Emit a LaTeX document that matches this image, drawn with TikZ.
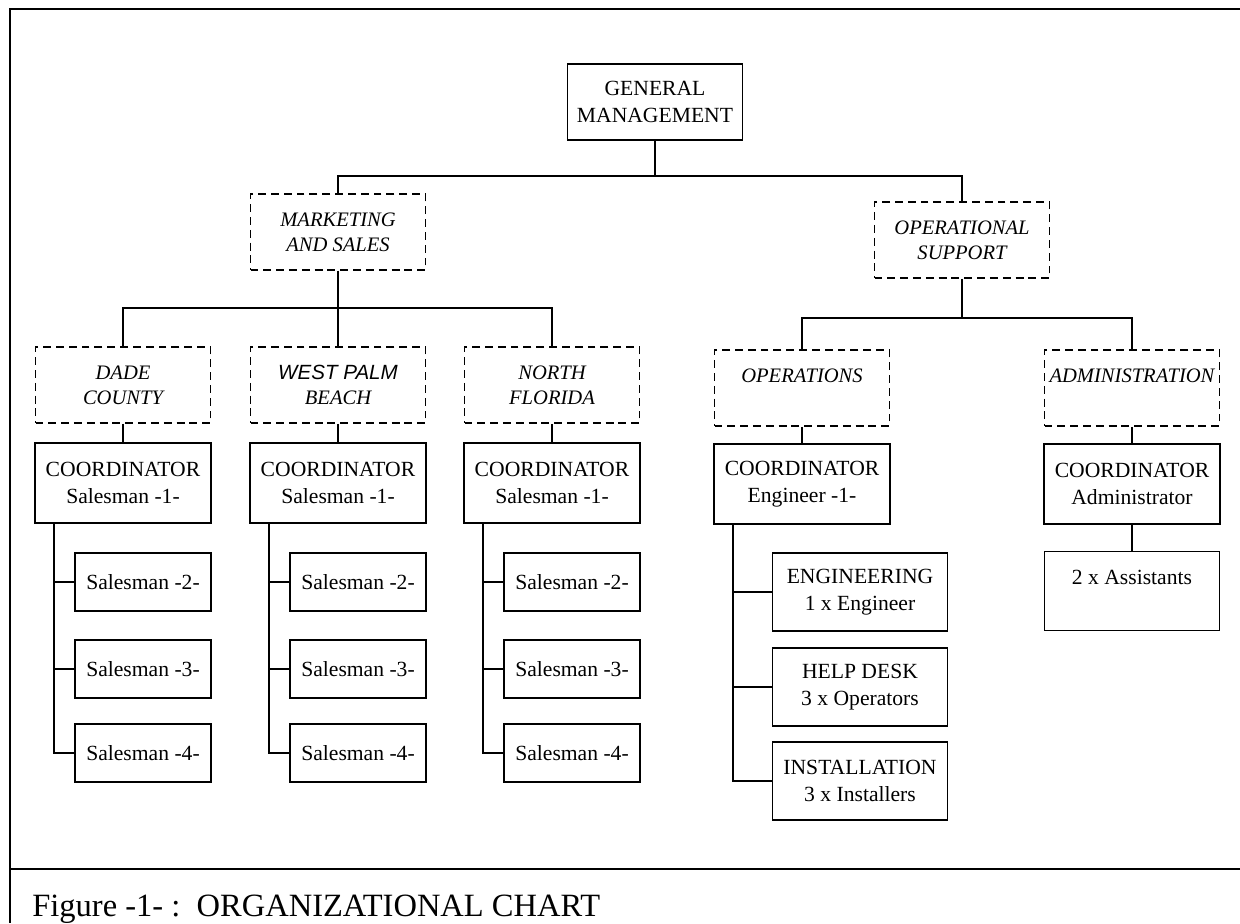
\documentclass[tikz,border=0pt]{standalone}
\usepackage{fontspec}
\setmainfont{Liberation Serif}
\newfontfamily\arialit{Liberation Sans}
\usetikzlibrary{positioning}

\tikzset{
  link/.style={line width=1.1pt},
  unit/.style={draw, line width=1.1pt, align=center, inner sep=1pt,
    font=\fontsize{12.3}{15.2}\selectfont},
  dept/.style={unit, dashed, dash pattern=on 4.5pt off 2.8pt,
    minimum width=3.5cm, minimum height=1.52cm,
    font=\fontsize{11.7}{14}\selectfont\itshape},
  chief/.style={unit, minimum width=3.52cm, minimum height=1.6cm},
  seller/.style={unit, minimum width=2.72cm, minimum height=1.16cm},
  team/.style={unit, minimum width=3.5cm, minimum height=1.56cm}
}

\begin{document}
\begin{tikzpicture}[node distance=2cm,on grid]
  \useasboundingbox (0,0) rectangle (24.8,-18.46);
  % frame and caption
  \draw[link] (24.8,-0.18) -- (0.2,-0.18) -- (0.2,-18.46);
  \draw[link] (0.2,-17.38) -- (24.8,-17.38);
  \node[anchor=base west, inner sep=0pt, font=\fontsize{18.5}{21}\selectfont] (cap) at (0.64,-18.32)
    {Figure -1- :\ \ ORGANIZATIONAL CHART};

  % top levels
  \node[chief, minimum height=1.52cm, minimum width=3.5cm] (gm) at (13.1,-2.04) {GENERAL\\MANAGEMENT};
  \node[dept] (mks) [below left=2.6cm and 6.34cm of gm] {MARKETING\\AND SALES};
  \node[dept] (osp) [below right=2.76cm and 6.14cm of gm] {OPERATIONAL\\SUPPORT};
  \draw[link] (gm.south) -- ++(0,-0.7) -| (mks.north);
  \draw[link] (gm.south) -- ++(0,-0.7) -| (osp.north);

  % marketing and sales
  \node[dept] (wpb) [below=3.06cm of mks] {{\arialit WEST PALM}\\BEACH};
  \node[dept] (dade) [left=4.3cm of wpb] {DADE\\COUNTY};
  \node[dept] (nfl) [right=4.28cm of wpb] {NORTH\\FLORIDA};
  \draw[link] (mks.south) -- (wpb.north);
  \draw[link] (mks.south) -- ++(0,-0.74) -| (dade.north);
  \draw[link] (mks.south) -- ++(0,-0.74) -| (nfl.north);

  \foreach \c in {dade,wpb,nfl} {
    \node[chief] (c\c) [below=1.96cm of \c] {COORDINATOR\\Salesman -1-};
    \draw[link] (\c.south) -- (c\c.north);
    \node[seller] (\c2) [below right=1.98cm and 0.4cm of c\c] {Salesman -2-};
    \node[seller] (\c3) [below=1.74cm of \c2] {Salesman -3-};
    \node[seller] (\c4) [below=1.68cm of \c3] {Salesman -4-};
    \draw[link] ([xshift=0.4cm]c\c.south west) |- (\c2.west);
    \draw[link] ([xshift=0.4cm]c\c.south west) |- (\c3.west);
    \draw[link] ([xshift=0.4cm]c\c.south west) |- (\c4.west);
  }

  % operational support
  \node[dept] (oper) [below left=2.96cm and 3.2cm of osp] {OPERATIONS\\~};
  \node[dept] (admin) [right=6.6cm of oper] {ADMINISTRATION\\~};
  \draw[link] (osp.south) -- ++(0,-0.78) -| (oper.north);
  \draw[link] (osp.south) -- ++(0,-0.78) -| (admin.north);

  \node[chief] (coper) [below=1.92cm of oper] {COORDINATOR\\Engineer -1-};
  \node[chief] (cadmin) [below=1.92cm of admin] {COORDINATOR\\Administrator};
  \draw[link] (oper.south) -- (coper.north);
  \draw[link] (admin.south) -- (cadmin.north);

  \node[team] (eng) [below right=2.16cm and 1.16cm of coper] {ENGINEERING\\1 x Engineer};
  \node[team] (help) [below=1.9cm of eng] {HELP DESK\\3 x Operators};
  \node[team] (inst) [below=1.88cm of help] {INSTALLATION\\3 x Installers};
  \draw[link] ([xshift=0.4cm]coper.south west) |- (eng.west);
  \draw[link] ([xshift=0.4cm]coper.south west) |- (help.west);
  \draw[link] ([xshift=0.4cm]coper.south west) |- (inst.west);

  \node[team, minimum height=1.58cm] (assist) [below=2.14cm of cadmin] {2 x Assistants\\~};
  \draw[link] (cadmin.south) -- (assist.north);
\end{tikzpicture}
\end{document}
